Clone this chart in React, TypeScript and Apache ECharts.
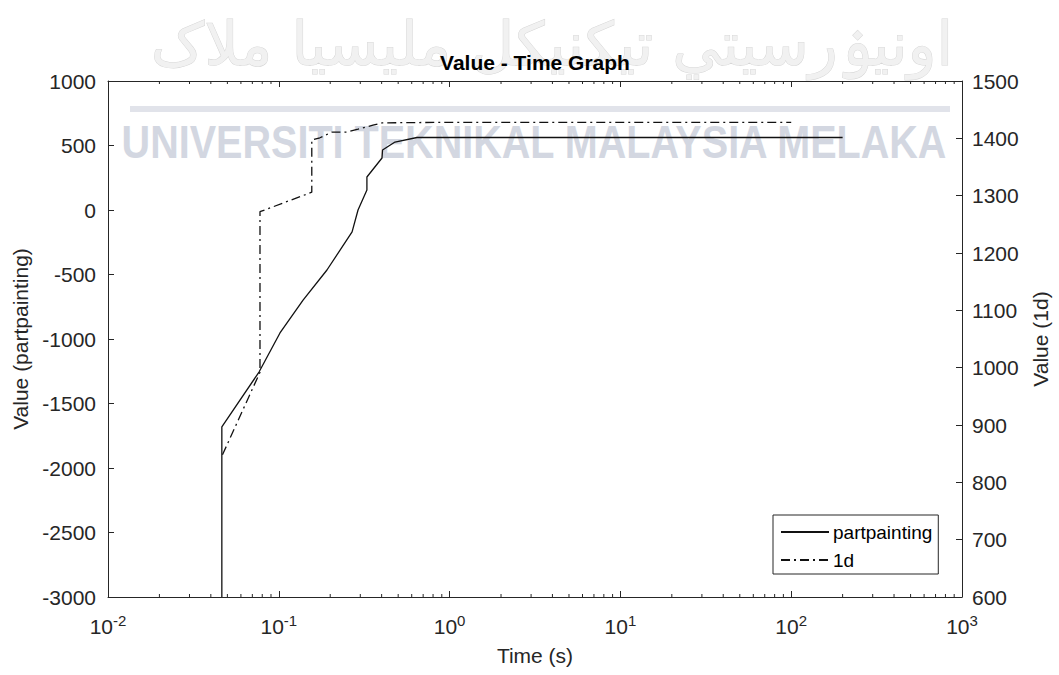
import React, { useEffect, useRef } from 'react';
import * as echarts from 'echarts';

// ---- data ----
const partTime = [0.0464, 0.0464, 0.0766, 0.1016, 0.1387, 0.1914, 0.2686, 0.291, 0.328, 0.328, 0.402, 0.405, 0.479, 0.644, 1.0, 200];
const partValue = [-3000, -1682, -1256, -953, -698, -465, -170, 0, 155, 256, 403, 465, 527, 562, 562, 562];
const oneDTime = [0.0468, 0.0776, 0.0776, 0.156, 0.156, 0.174, 0.205, 0.251, 0.291, 0.356, 0.402, 1.0, 100];
const oneDValue = [848, 992, 1272, 1306, 1397, 1401, 1411, 1411, 1416, 1423, 1427, 1428, 1428];

const seriesNames = ['partpainting', '1d'];
const titleText = 'Value - Time Graph';
const xName = 'Time (s)';
const leftName = 'Value (partpainting)';
const rightName = 'Value (1d)';
const xRange = [0.01, 1000];
const leftRange = [-3000, 1000, 500];
const rightRange = [600, 1500, 100];
const minorMultipliers = [2, 3, 4, 5, 6, 7, 8, 9];
const decadeExponents = [-2, -1, 0, 1, 2];
const watermarkLatin = 'UNIVERSITI TEKNIKAL MALAYSIA MELAKA';
const watermarkJawi = 'اونيۏرسيتي تيکنيکل مليسيا ملاک';

const FONT = '"Liberation Sans", Arial, Helvetica, sans-serif';
const AXIS = '#262626';

export default function App() {
  const ref = useRef<HTMLDivElement>(null);
  useEffect(() => {
    const chart = echarts.init(ref.current as HTMLDivElement, null, { renderer: 'svg' });
    const partData = partTime.map((t, i) => [t, partValue[i]]);
    const oneDData = oneDTime.map((t, i) => [t, oneDValue[i]]);

    const xAxisCommon = {
      type: 'log',
      logBase: 10,
      min: xRange[0],
      max: xRange[1],
      gridIndex: 0,
      splitLine: { show: false },
      axisLine: { show: true, onZero: false, lineStyle: { color: AXIS, width: 1 } },
      axisTick: { show: true, inside: true, length: 6, lineStyle: { color: AXIS, width: 1 } },
    };

    const plain = (v: number) => String(v);

    const option: any = {
      animation: false,
      backgroundColor: '#ffffff',
      textStyle: { fontFamily: FONT },
      title: {
        text: titleText,
        left: 535,
        top: 52,
        padding: 0,
        textAlign: 'center',
        textStyle: { fontFamily: FONT, fontSize: 21, fontWeight: 'bold', color: '#000' },
      },
      grid: { left: 108, right: 97, top: 81, bottom: 78, containLabel: false },
      legend: {
        orient: 'vertical',
        left: 773,
        top: 515,
        padding: [6, 6, 3, 7],
        itemGap: 6,
        itemWidth: 48,
        itemHeight: 22,
        backgroundColor: '#fff',
        borderColor: AXIS,
        borderWidth: 1,
        borderRadius: 0,
        itemStyle: { color: 'transparent', borderColor: 'transparent', borderWidth: 0, opacity: 0 },
        textStyle: { fontFamily: FONT, fontSize: 19, color: '#000', lineHeight: 22, padding: [0, 0, 0, -1] },
        data: seriesNames,
      },
      xAxis: [
        {
          ...xAxisCommon,
          position: 'bottom',
          name: xName,
          nameLocation: 'middle',
          nameGap: 48,
          nameTextStyle: { fontFamily: FONT, fontSize: 21, color: AXIS },
          axisLabel: {
            margin: 16,
            color: AXIS,
            formatter: (v: number) => `{b|10}{s|${Math.round(Math.log10(v))}}`,
            rich: {
              b: { fontFamily: FONT, fontSize: 21, color: AXIS, lineHeight: 24, verticalAlign: 'bottom' },
              s: { fontFamily: FONT, fontSize: 15, color: AXIS, lineHeight: 14, verticalAlign: 'top' },
            },
          },
        },
        {
          ...xAxisCommon,
          position: 'top',
          axisLabel: { show: false },
        },
      ],
      yAxis: [
        {
          type: 'value',
          position: 'left',
          min: leftRange[0],
          max: leftRange[1],
          interval: leftRange[2],
          name: leftName,
          nameLocation: 'middle',
          nameGap: 72,
          nameTextStyle: { fontFamily: FONT, fontSize: 21, color: AXIS },
          splitLine: { show: false },
          axisLine: { show: true, onZero: false, lineStyle: { color: AXIS, width: 1 } },
          axisTick: { show: true, inside: true, length: 6, lineStyle: { color: AXIS } },
          axisLabel: { margin: 12, fontFamily: FONT, fontSize: 21, color: AXIS, formatter: plain },
        },
        {
          type: 'value',
          position: 'right',
          min: rightRange[0],
          max: rightRange[1],
          interval: rightRange[2],
          name: rightName,
          nameLocation: 'middle',
          nameGap: 66,
          nameTextStyle: { fontFamily: FONT, fontSize: 21, color: AXIS },
          splitLine: { show: false },
          axisLine: { show: true, onZero: false, lineStyle: { color: AXIS, width: 1 } },
          axisTick: { show: true, inside: true, length: 6, lineStyle: { color: AXIS } },
          axisLabel: { margin: 10, fontFamily: FONT, fontSize: 21, color: AXIS, formatter: plain },
        },
      ],
      series: [
        {
          name: seriesNames[0],
          type: 'line',
          xAxisIndex: 0,
          yAxisIndex: 0,
          data: partData,
          showSymbol: false,
          symbol: 'none',
          lineStyle: { color: '#111', width: 1.3, type: 'solid' },
          itemStyle: { color: '#111' },
          z: 5,
        },
        {
          name: seriesNames[1],
          type: 'line',
          xAxisIndex: 0,
          yAxisIndex: 1,
          data: oneDData,
          showSymbol: false,
          symbol: 'none',
          lineStyle: { color: '#111', width: 1.3, type: [9, 4, 2, 4] },
          itemStyle: { color: '#111' },
          z: 5,
        },
      ],
    };
    chart.setOption(option);

    // minor ticks on the log axis computed through the axis scale
    const yBottom = chart.convertToPixel({ yAxisIndex: 0 }, leftRange[0]) as number;
    const yTop = chart.convertToPixel({ yAxisIndex: 0 }, leftRange[1]) as number;
    const elements: any[] = [
      {
        type: 'text',
        id: 'wm-jawi',
        x: 552,
        y: 44,
        z: 0,
        silent: true,
        style: {
          text: watermarkJawi,
          fontFamily: '"DejaVu Sans", sans-serif',
          fontSize: 60,
          fill: '#f1f1f1',
          stroke: '#d6d6d6',
          lineWidth: 1,
          align: 'center',
          verticalAlign: 'middle',
        },
      },
      {
        type: 'rect',
        id: 'wm-bar',
        z: 0,
        silent: true,
        shape: { x: 130, y: 106, width: 820, height: 6 },
        style: { fill: '#e1e3ea' },
      },
      {
        type: 'text',
        id: 'wm-latin',
        x: 534,
        y: 142,
        scaleX: 0.86,
        z: 0,
        silent: true,
        style: {
          text: watermarkLatin,
          fontFamily: FONT,
          fontWeight: 'bold',
          fontSize: 46,
          fill: '#d3d7e1',
          align: 'center',
          verticalAlign: 'middle',
        },
      },
    ];
    decadeExponents.forEach((e) => {
      minorMultipliers.forEach((m) => {
        const v = m * Math.pow(10, e);
        const px = chart.convertToPixel({ xAxisIndex: 0 }, v) as number;
        elements.push({
          type: 'line',
          id: `mb-${e}-${m}`,
          z: 3,
          silent: true,
          shape: { x1: px, y1: yBottom, x2: px, y2: yBottom - 3 },
          style: { stroke: AXIS, lineWidth: 1 },
        });
        elements.push({
          type: 'line',
          id: `mt-${e}-${m}`,
          z: 3,
          silent: true,
          shape: { x1: px, y1: yTop, x2: px, y2: yTop + 3 },
          style: { stroke: AXIS, lineWidth: 1 },
        });
      });
    });
    chart.setOption({ graphic: { elements } });

    return () => chart.dispose();
  }, []);

  return (
    <div
      ref={ref}
      style={{ position: 'fixed', left: 0, top: 0, width: 1059, height: 675, background: '#fff' }}
    />
  );
}
